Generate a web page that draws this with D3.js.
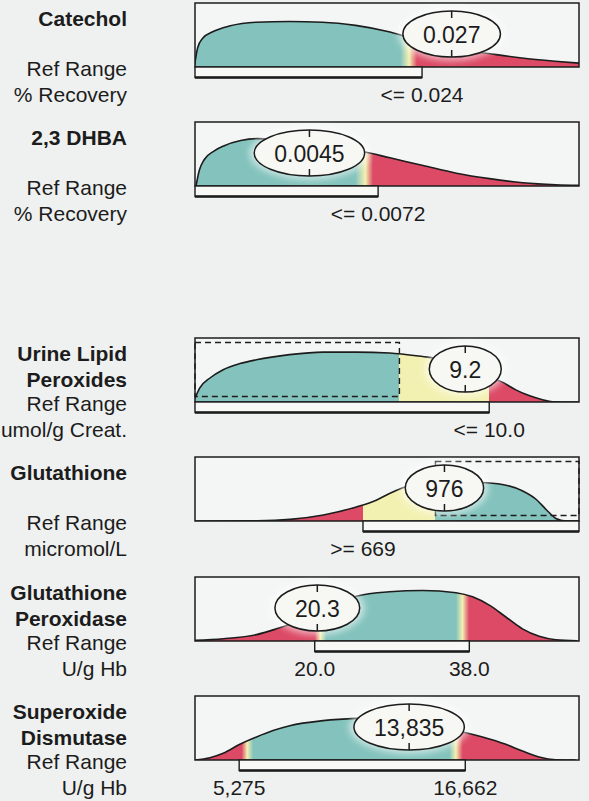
<!DOCTYPE html>
<html><head><meta charset="utf-8">
<script src="https://cdn.jsdelivr.net/npm/d3@7"></script>
<style>
body{margin:0;background:#eff1f0;}
svg{display:block;}
text{font-family:"Liberation Sans",Arial,Helvetica,sans-serif;fill:#1c1c1c;}
</style></head><body>
<svg id="chart" width="589" height="801"></svg>
<script>
// ---------- DATA ----------
const titleLines = [["Catechol"], ["2,3 DHBA"], ["Urine Lipid", "Peroxides"], ["Glutathione"], ["Glutathione", "Peroxidase"], ["Superoxide", "Dismutase"]];
const unitLines = [["Ref Range", "% Recovery"], ["Ref Range", "% Recovery"], ["Ref Range", "umol/g Creat."], ["Ref Range", "micromol/L"], ["Ref Range", "U/g Hb"], ["Ref Range", "U/g Hb"]];
const domains = [[0.001, 0.0399], [0, 0.0151], [0.17, 13.0], [36, 1483], [6.06, 50.77], [3050, 22390]];
const results = [0.027, 0.0045, 9.2, 976, 20.3, 13835];
const resultLabels = ["0.027", "0.0045", "9.2", "976", "20.3", "13,835"];
const refLow = [null, null, null, 669, 20.0, 5275];
const refHigh = [0.024, 0.0072, 10.0, null, 38.0, 16662];
const refTickLabels = [
  [[0.024, "<= 0.024"]],
  [[0.0072, "<= 0.0072"]],
  [[10.0, "<= 10.0"]],
  [[669, ">= 669"]],
  [[20.0, "20.0"], [38.0, "38.0"]],
  [[5275, "5,275"], [16662, "16,662"]]
];
const optimalRange = [null, null, [0.17, 7.0], [942, 1483], null, null];

// distribution curves: values (x) and relative heights (0-1)
const curveX = [
  [0.00094, 0.00127, 0.00178, 0.00279, 0.00447, 0.00717, 0.01054, 0.0139, 0.01727, 0.02064, 0.02232, 0.0267, 0.03074, 0.03411, 0.03747, 0.0399],
  [0.00004, 0.00017, 0.00036, 0.00076, 0.00115, 0.0018, 0.00245, 0.00376, 0.00506, 0.00669, 0.00767, 0.00897, 0.01028, 0.01158, 0.01289, 0.01419, 0.0151],
  [0.17, 0.33, 0.67, 1.11, 1.67, 2.22, 3.33, 4.44, 5.56, 6.67, 7.78, 8.11, 9.22, 10.44, 10.89, 11.33, 11.78, 12.11, 13.0],
  [36, 269, 394, 520, 644, 719, 769, 819, 845, 982, 1120, 1208, 1271, 1321, 1359, 1396, 1433, 1483],
  [6.06, 9.35, 13.23, 15.55, 20.2, 24.84, 28.71, 32.58, 36.45, 38.38, 40.32, 42.26, 44.19, 46.13, 48.07, 50.58],
  [3050, 3803, 4471, 5310, 6149, 6983, 7822, 9494, 11172, 12006, 14351, 16697, 17531, 18706, 19540, 20379, 21218, 22222]
];
const curveH = [
  [0.01, 0.30, 0.45, 0.55, 0.64, 0.70, 0.71, 0.70, 0.65, 0.55, 0.48, 0.30, 0.21, 0.14, 0.09, 0.06],
  [0, 0.245, 0.41, 0.55, 0.63, 0.71, 0.74, 0.70, 0.62, 0.53, 0.44, 0.32, 0.20, 0.115, 0.052, 0.02, 0.01],
  [0.06, 0.22, 0.375, 0.505, 0.60, 0.66, 0.74, 0.78, 0.78, 0.765, 0.71, 0.69, 0.50, 0.31, 0.19, 0.10, 0.036, 0.005, 0],
  [0, 0.005, 0.026, 0.094, 0.22, 0.325, 0.43, 0.52, 0.56, 0.62, 0.60, 0.56, 0.47, 0.34, 0.18, 0.04, 0, 0],
  [0.01, 0.036, 0.10, 0.19, 0.42, 0.70, 0.77, 0.79, 0.755, 0.69, 0.56, 0.375, 0.19, 0.073, 0.02, 0.005],
  [0, 0.036, 0.105, 0.245, 0.36, 0.46, 0.536, 0.615, 0.65, 0.655, 0.57, 0.427, 0.36, 0.245, 0.14, 0.047, 0.005, 0]
];
// colour bands along each value axis
const bandStops = [
  [[0.001, "teal"], [0.0218, "teal"], [0.0227, "yellow"], [0.0235, "red"], [0.0399, "red"]],
  [[0, "teal"], [0.0063, "teal"], [0.0067, "yellow"], [0.0070, "red"], [0.0151, "red"]],
  [[0.17, "teal"], [7.0, "teal"], [7.0, "yellow"], [10.0, "yellow"], [10.0, "red"], [13.0, "red"]],
  [[36, "red"], [669, "red"], [669, "yellow"], [942, "yellow"], [942, "teal"], [1483, "teal"]],
  [[6.06, "red"], [20.0, "red"], [20.66, "yellow"], [21.35, "teal"], [36.45, "teal"], [37.2, "yellow"], [37.98, "red"], [50.77, "red"]],
  [[3050, "red"], [5395, "red"], [5680, "yellow"], [5980, "teal"], [15860, "teal"], [16190, "yellow"], [16530, "red"], [22390, "red"]]
];

// ---------- STYLE / LAYOUT ----------
const palette = {teal: "#84c3bd", yellow: "#f3f1b2", red: "#dc4a66"};
const panelTops = [3, 122, 338, 457, 577, 696];
const boxL = 195, boxR = 579, boxH = 64, labelX = 127;
const ink = "#1c1c1c";

const svg = d3.select("#chart");
const defs = svg.append("defs");
const blur = defs.append("filter").attr("id", "blur").attr("x", "-50%").attr("y", "-50%").attr("width", "200%").attr("height", "200%");
blur.append("feGaussianBlur").attr("stdDeviation", 3);

titleLines.forEach((titles, i) => {
  const top = panelTops[i], bot = top + boxH;
  const x = d3.scaleLinear().domain(domains[i]).range([boxL, boxR]);
  const y = d3.scaleLinear().domain([0, 1]).range([bot, bot - boxH]);
  const g = svg.append("g");

  defs.append("clipPath").attr("id", "clip" + i)
    .append("rect").attr("x", boxL).attr("y", top).attr("width", boxR - boxL).attr("height", boxH);

  const grad = defs.append("linearGradient").attr("id", "grad" + i)
    .attr("gradientUnits", "userSpaceOnUse")
    .attr("x1", boxL).attr("x2", boxR).attr("y1", 0).attr("y2", 0);
  bandStops[i].forEach(([v, c]) => {
    grad.append("stop").attr("offset", Math.max(0, Math.min(1, (x(v) - boxL) / (boxR - boxL))))
      .attr("stop-color", palette[c]);
  });

  // box background
  g.append("rect").attr("x", boxL).attr("y", top).attr("width", boxR - boxL).attr("height", boxH)
    .attr("fill", "#f4f6f5");

  const pts = curveX[i].map((v, j) => [v, curveH[i][j]]);
  const area = d3.area().x(d => x(d[0])).y0(bot).y1(d => y(d[1])).curve(d3.curveMonotoneX);
  const line = d3.line().x(d => x(d[0])).y(d => y(d[1])).curve(d3.curveMonotoneX);
  const clipped = g.append("g").attr("clip-path", `url(#clip${i})`);
  clipped.append("path").attr("d", area(pts)).attr("fill", `url(#grad${i})`);
  clipped.append("path").attr("d", line(pts)).attr("fill", "none").attr("stroke", ink).attr("stroke-width", 1.6);

  // optimal range dashed box
  if (optimalRange[i]) {
    const [lo, hi] = optimalRange[i];
    g.append("rect").attr("x", x(lo)).attr("y", top + 4.5).attr("width", x(hi) - x(lo)).attr("height", boxH - 10)
      .attr("fill", "none").attr("stroke", ink).attr("stroke-width", 1.4).attr("stroke-dasharray", "6,4");
  }

  // box border
  g.append("rect").attr("x", boxL).attr("y", top).attr("width", boxR - boxL).attr("height", boxH)
    .attr("fill", "none").attr("stroke", ink).attr("stroke-width", 1.5);

  // reference range bar
  const rLo = refLow[i] != null ? refLow[i] : domains[i][0];
  const rHi = refHigh[i] != null ? refHigh[i] : domains[i][1];
  g.append("rect").attr("x", x(rLo)).attr("y", bot).attr("width", x(rHi) - x(rLo)).attr("height", 10.5)
    .attr("fill", "#f8f9f7").attr("stroke", ink).attr("stroke-width", 1.4);
  g.append("line").attr("x1", x(rLo)).attr("x2", x(rHi)).attr("y1", bot + 10.5).attr("y2", bot + 10.5)
    .attr("stroke", ink).attr("stroke-width", 2.6);

  // reference labels
  refTickLabels[i].forEach(([v, t]) => {
    g.append("text").attr("x", x(v)).attr("y", bot + 27).attr("text-anchor", "middle")
      .attr("dominant-baseline", "central").attr("font-size", 21).text(t);
  });

  // result ellipse
  const cx = x(results[i]), cy = top + 31, ry = 23;
  const eg = g.append("g");
  const halo = eg.append("ellipse").attr("clip-path", `url(#clip${i})`);
  const ell = eg.append("ellipse");
  const txt = eg.append("text").attr("x", cx).attr("y", cy + 1).attr("text-anchor", "middle")
    .attr("dominant-baseline", "central").attr("font-size", 23).text(resultLabels[i]);
  const rx = txt.node().getComputedTextLength() / 2 + 20;
  halo.attr("cx", cx).attr("cy", cy).attr("rx", rx + 5).attr("ry", ry + 4)
    .attr("fill", "#ffffff").attr("opacity", 0.55).attr("filter", "url(#blur)");
  ell.attr("cx", cx).attr("cy", cy).attr("rx", rx).attr("ry", ry)
    .attr("fill", "#f7f8f4").attr("stroke", ink).attr("stroke-width", 1.5);
  eg.append("line").attr("x1", cx).attr("x2", cx).attr("y1", cy - ry).attr("y2", cy - ry + 7)
    .attr("stroke", ink).attr("stroke-width", 1.5);
  eg.append("line").attr("x1", cx).attr("x2", cx).attr("y1", cy + ry - 7).attr("y2", cy + ry)
    .attr("stroke", ink).attr("stroke-width", 1.5);

  // left labels
  titles.forEach((t, k) => {
    g.append("text").attr("x", labelX).attr("y", top + 15 + k * 26).attr("text-anchor", "end")
      .attr("dominant-baseline", "central").attr("font-size", 21).attr("font-weight", "bold").text(t);
  });
  unitLines[i].forEach((t, k) => {
    g.append("text").attr("x", labelX).attr("y", bot + 1 + k * 26).attr("text-anchor", "end")
      .attr("dominant-baseline", "central").attr("font-size", 21).text(t);
  });
});
</script>
</body></html>
